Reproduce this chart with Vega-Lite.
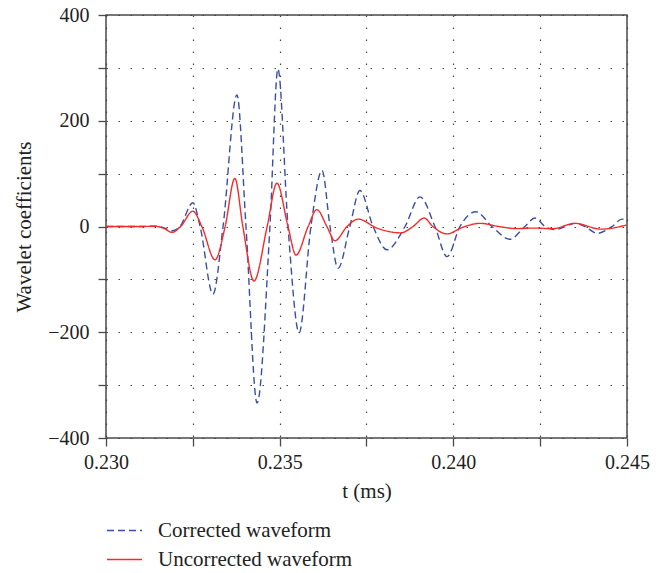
{
  "$schema": "https://vega.github.io/schema/vega-lite/v6.json",
  "width": 521,
  "height": 423,
  "autosize": {"type": "none"},
  "padding": {"left": 106, "top": 15, "right": 39, "bottom": 135},
  "background": "white",
  "config": {
    "font": "Liberation Serif",
    "view": {"stroke": "#4a4a4a", "strokeWidth": 1.5},
    "axis": {
      "domain": false,
      "grid": true,
      "gridColor": "#444444",
      "gridDash": [1.5, 10.5],
      "gridWidth": 1.2,
      "gridOpacity": 1,
      "ticks": true,
      "tickColor": "#4a4a4a",
      "tickWidth": 1.3,
      "tickSize": 8,
      "labelFont": "Liberation Serif",
      "labelFontSize": 20,
      "labelColor": "#222222",
      "titleFont": "Liberation Serif",
      "titleFontSize": 21,
      "titleFontWeight": "normal",
      "titleColor": "#222222"
    },
    "legend": {
      "labelFont": "Liberation Serif",
      "labelFontSize": 21,
      "labelColor": "#222222",
      "labelLimit": 0
    }
  },
  "data": {
    "values": [
      {"series": "Corrected waveform", "t": 0.2300, "v": 0},
      {"series": "Corrected waveform", "t": 0.2310, "v": 0},
      {"series": "Corrected waveform", "t": 0.2314, "v": 0.5},
      {"series": "Corrected waveform", "t": 0.23165, "v": -2},
      {"series": "Corrected waveform", "t": 0.23190, "v": -8},
      {"series": "Corrected waveform", "t": 0.23213, "v": 0},
      {"series": "Corrected waveform", "t": 0.23250, "v": 45},
      {"series": "Corrected waveform", "t": 0.23271, "v": 0},
      {"series": "Corrected waveform", "t": 0.23308, "v": -128},
      {"series": "Corrected waveform", "t": 0.23337, "v": 0},
      {"series": "Corrected waveform", "t": 0.23377, "v": 249},
      {"series": "Corrected waveform", "t": 0.23403, "v": 0},
      {"series": "Corrected waveform", "t": 0.23435, "v": -334},
      {"series": "Corrected waveform", "t": 0.23472, "v": 0},
      {"series": "Corrected waveform", "t": 0.23495, "v": 298},
      {"series": "Corrected waveform", "t": 0.23524, "v": 0},
      {"series": "Corrected waveform", "t": 0.23556, "v": -201},
      {"series": "Corrected waveform", "t": 0.23590, "v": 0},
      {"series": "Corrected waveform", "t": 0.23622, "v": 106},
      {"series": "Corrected waveform", "t": 0.23645, "v": 0},
      {"series": "Corrected waveform", "t": 0.23668, "v": -79},
      {"series": "Corrected waveform", "t": 0.23702, "v": 0},
      {"series": "Corrected waveform", "t": 0.23731, "v": 68},
      {"series": "Corrected waveform", "t": 0.23769, "v": 0},
      {"series": "Corrected waveform", "t": 0.23809, "v": -44},
      {"series": "Corrected waveform", "t": 0.23861, "v": 0},
      {"series": "Corrected waveform", "t": 0.23904, "v": 56},
      {"series": "Corrected waveform", "t": 0.23947, "v": 0},
      {"series": "Corrected waveform", "t": 0.23982, "v": -57},
      {"series": "Corrected waveform", "t": 0.24019, "v": 0},
      {"series": "Corrected waveform", "t": 0.24065, "v": 28},
      {"series": "Corrected waveform", "t": 0.24111, "v": 0},
      {"series": "Corrected waveform", "t": 0.24163, "v": -24},
      {"series": "Corrected waveform", "t": 0.24206, "v": 0},
      {"series": "Corrected waveform", "t": 0.24235, "v": 16},
      {"series": "Corrected waveform", "t": 0.24264, "v": 0},
      {"series": "Corrected waveform", "t": 0.24293, "v": -6},
      {"series": "Corrected waveform", "t": 0.24322, "v": 0},
      {"series": "Corrected waveform", "t": 0.24350, "v": 6},
      {"series": "Corrected waveform", "t": 0.24379, "v": 0},
      {"series": "Corrected waveform", "t": 0.24414, "v": -13},
      {"series": "Corrected waveform", "t": 0.24457, "v": 0},
      {"series": "Corrected waveform", "t": 0.24486, "v": 14},
      {"series": "Corrected waveform", "t": 0.24500, "v": 9},
      {"series": "Uncorrected waveform", "t": 0.2300, "v": 0},
      {"series": "Uncorrected waveform", "t": 0.2310, "v": 0},
      {"series": "Uncorrected waveform", "t": 0.2314, "v": 0.5},
      {"series": "Uncorrected waveform", "t": 0.23165, "v": -3},
      {"series": "Uncorrected waveform", "t": 0.23190, "v": -11},
      {"series": "Uncorrected waveform", "t": 0.23215, "v": 0},
      {"series": "Uncorrected waveform", "t": 0.23250, "v": 29},
      {"series": "Uncorrected waveform", "t": 0.23276, "v": 0},
      {"series": "Uncorrected waveform", "t": 0.23314, "v": -63},
      {"series": "Uncorrected waveform", "t": 0.23343, "v": 0},
      {"series": "Uncorrected waveform", "t": 0.23371, "v": 91},
      {"series": "Uncorrected waveform", "t": 0.23394, "v": 0},
      {"series": "Uncorrected waveform", "t": 0.23426, "v": -103},
      {"series": "Uncorrected waveform", "t": 0.23464, "v": 0},
      {"series": "Uncorrected waveform", "t": 0.23492, "v": 82},
      {"series": "Uncorrected waveform", "t": 0.23524, "v": 0},
      {"series": "Uncorrected waveform", "t": 0.23547, "v": -54},
      {"series": "Uncorrected waveform", "t": 0.23582, "v": 0},
      {"series": "Uncorrected waveform", "t": 0.23607, "v": 32},
      {"series": "Uncorrected waveform", "t": 0.23636, "v": 0},
      {"series": "Uncorrected waveform", "t": 0.23659, "v": -27},
      {"series": "Uncorrected waveform", "t": 0.23694, "v": 0},
      {"series": "Uncorrected waveform", "t": 0.23726, "v": 14},
      {"series": "Uncorrected waveform", "t": 0.23780, "v": -3},
      {"series": "Uncorrected waveform", "t": 0.23849, "v": -12},
      {"series": "Uncorrected waveform", "t": 0.23884, "v": 0},
      {"series": "Uncorrected waveform", "t": 0.23916, "v": 16},
      {"series": "Uncorrected waveform", "t": 0.23941, "v": 0},
      {"series": "Uncorrected waveform", "t": 0.23982, "v": -14},
      {"series": "Uncorrected waveform", "t": 0.24025, "v": -2},
      {"series": "Uncorrected waveform", "t": 0.24077, "v": 6},
      {"series": "Uncorrected waveform", "t": 0.24130, "v": 0},
      {"series": "Uncorrected waveform", "t": 0.24183, "v": -4},
      {"series": "Uncorrected waveform", "t": 0.24230, "v": -3},
      {"series": "Uncorrected waveform", "t": 0.24287, "v": -4},
      {"series": "Uncorrected waveform", "t": 0.24350, "v": 6},
      {"series": "Uncorrected waveform", "t": 0.24425, "v": -5},
      {"series": "Uncorrected waveform", "t": 0.24500, "v": 3}
    ]
  },
  "mark": {"type": "line", "interpolate": "monotone", "strokeWidth": 1.4},
  "encoding": {
    "x": {
      "field": "t",
      "type": "quantitative",
      "scale": {"domain": [0.23, 0.245], "nice": false, "zero": false},
      "axis": {
        "title": "t (ms)",
        "values": [0.23, 0.2325, 0.235, 0.2375, 0.24, 0.2425, 0.245],
        "format": ".3f",
        "labelExpr": "indexof(['0.230','0.235','0.240','0.245'], datum.label) >= 0 ? datum.label : ''",
        "labelPadding": 6,
        "titlePadding": 8,
        "labelFlush": false
      }
    },
    "y": {
      "field": "v",
      "type": "quantitative",
      "scale": {"domain": [-400, 400], "nice": false},
      "axis": {
        "title": "Wavelet coefficients",
        "values": [-400, -300, -200, -100, 0, 100, 200, 300, 400],
        "labelExpr": "datum.value % 200 == 0 ? datum.label : ''",
        "labelPadding": 9,
        "titlePadding": 13,
        "labelFlush": false
      }
    },
    "color": {
      "field": "series",
      "type": "nominal",
      "scale": {"domain": ["Corrected waveform", "Uncorrected waveform"], "range": ["#3a4ea6", "#f52a2a"]},
      "legend": {
        "title": null,
        "orient": "none",
        "legendX": 0,
        "legendY": 497,
        "symbolType": "stroke",
        "symbolSize": 1225,
        "symbolStrokeWidth": 1.4,
        "labelOffset": 15,
        "labelLimit": 0,
        "rowPadding": -6
      }
    },
    "strokeDash": {
      "field": "series",
      "type": "nominal",
      "scale": {"domain": ["Corrected waveform", "Uncorrected waveform"], "range": [[7, 4], [1, 0]]},
      "legend": {
        "title": null,
        "orient": "none",
        "legendX": 0,
        "legendY": 497,
        "symbolType": "stroke",
        "symbolSize": 1225,
        "symbolStrokeWidth": 1.4,
        "labelOffset": 15,
        "labelLimit": 0,
        "rowPadding": -6
      }
    }
  }
}
